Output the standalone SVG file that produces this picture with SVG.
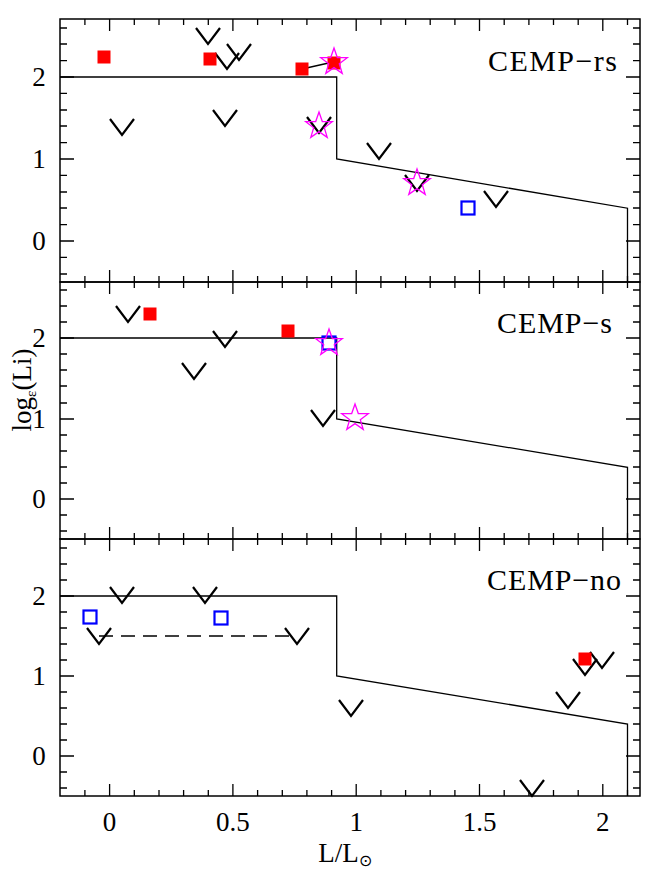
<svg xmlns="http://www.w3.org/2000/svg" width="654" height="871" viewBox="0 0 654 871">
<defs>
<style>
.fr{fill:none;stroke:#000;stroke-width:1.5}
.ln{fill:none;stroke:#000;stroke-width:1.3}
.tk{stroke:#000;stroke-width:1.3}
.t{font-family:"Liberation Serif",serif;font-size:27px;fill:#000}
.lb{font-family:"Liberation Serif",serif;font-size:30px;fill:#000}
</style>
<path id="v" d="M-12,-8 L0,8 L12,-8" fill="none" stroke="#000" stroke-width="2.2"/>
<rect id="rs" x="-6.5" y="-6.5" width="13" height="13" fill="#f00"/>
<rect id="bs" x="-6.5" y="-6.5" width="13" height="13" fill="none" stroke="#00f" stroke-width="2.2"/>
<path id="st" d="M0,-14 L3.3,-4.5 L13.3,-4.3 L5.3,1.7 L8.2,11.3 L0,5.6 L-8.2,11.3 L-5.3,1.7 L-13.3,-4.3 L-3.3,-4.5 Z" fill="none" stroke="#f0f" stroke-width="1.3"/>
<g id="xt" class="tk">
<path d="M84.9,0v6M134.3,0v6M159,0v6M183.6,0v6M208.3,0v6M257.6,0v6M282.3,0v6M306.9,0v6M331.6,0v6M380.9,0v6M405.6,0v6M430.2,0v6M454.9,0v6M504.2,0v6M528.9,0v6M553.5,0v6M578.2,0v6M627.5,0v6"/>
<path d="M109.6,0v12M232.9,0v12M356.2,0v12M479.5,0v12M602.8,0v12"/>
</g>
</defs>
<rect width="654" height="871" fill="#fff"/>
<g id="frames">
<rect class="fr" x="60" y="19" width="580" height="263"/>
<rect class="fr" x="60" y="282" width="580" height="257"/>
<rect class="fr" x="60" y="539" width="580" height="257"/>
</g>
<g id="ticks">
<use href="#xt" y="19"/><use href="#xt" transform="translate(0,282) scale(1,-1)"/>
<use href="#xt" y="282"/><use href="#xt" transform="translate(0,539) scale(1,-1)"/>
<use href="#xt" y="539"/><use href="#xt" transform="translate(0,796) scale(1,-1)"/>
<g class="tk">
<path d="M60,77h14M640,77h-14M60,159h14M640,159h-14M60,241h14M640,241h-14"/>
<path d="M60,44h7M640,44h-7M60,60.6h7M640,60.6h-7M60,93.4h7M640,93.4h-7M60,110h7M640,110h-7M60,126h7M640,126h-7M60,142.6h7M640,142.6h-7M60,175.4h7M640,175.4h-7M60,192h7M640,192h-7M60,208h7M640,208h-7M60,224.6h7M640,224.6h-7M60,257.4h7M640,257.4h-7M60,274h7M640,274h-7M60,28h7M640,28h-7"/>
<path d="M60,338h14M640,338h-14M60,419h14M640,419h-14M60,499h14M640,499h-14"/>
<path d="M60,290h7M640,290h-7M60,306h7M640,306h-7M60,322h7M640,322h-7M60,354h7M640,354h-7M60,370h7M640,370h-7M60,386h7M640,386h-7M60,403h7M640,403h-7M60,435h7M640,435h-7M60,451h7M640,451h-7M60,467h7M640,467h-7M60,483h7M640,483h-7M60,515h7M640,515h-7M60,531h7M640,531h-7"/>
<path d="M60,596h14M640,596h-14M60,676h14M640,676h-14M60,756h14M640,756h-14"/>
<path d="M60,548h7M640,548h-7M60,564h7M640,564h-7M60,580h7M640,580h-7M60,612h7M640,612h-7M60,628h7M640,628h-7M60,644h7M640,644h-7M60,660h7M640,660h-7M60,692h7M640,692h-7M60,708h7M640,708h-7M60,724h7M640,724h-7M60,740h7M640,740h-7M60,772h7M640,772h-7M60,788h7M640,788h-7"/>
</g>
</g>
<g id="curves">
<path class="ln" d="M60,77H336.7V159L627.5,208.2V282"/>
<path class="ln" d="M60,338H336.7V419L627.5,467.3V539"/>
<path class="ln" d="M60,596H336.7V676L627.5,724V796"/>
<path class="ln" d="M302,69L333,62"/>
<path class="ln" d="M99,636H297" stroke-dasharray="14,8"/>
</g>
<g id="panel1">
<use href="#v" x="208" y="36"/><use href="#v" x="239" y="52"/><use href="#v" x="227" y="61"/>
<use href="#v" x="122" y="127"/><use href="#v" x="225" y="118"/><use href="#v" x="319" y="125"/>
<use href="#v" x="379" y="151"/><use href="#v" x="417" y="183"/><use href="#v" x="496" y="199"/>
<use href="#rs" x="104" y="57"/><use href="#rs" x="210" y="59"/><use href="#rs" x="302" y="69"/><use href="#rs" x="334" y="63"/>
<use href="#st" x="334" y="62"/><use href="#st" x="319" y="126"/><use href="#st" x="417" y="183"/>
<use href="#bs" x="468" y="208"/>
<text class="lb" x="617" y="71" text-anchor="end" textLength="129">CEMP−rs</text>
</g>
<g id="panel2">
<use href="#v" x="128" y="314"/><use href="#v" x="225" y="339"/><use href="#v" x="194" y="371"/><use href="#v" x="323" y="418"/>
<use href="#rs" x="150" y="314"/><use href="#rs" x="288" y="331"/>
<use href="#bs" x="329" y="343"/><use href="#st" x="329" y="343"/><use href="#st" x="355" y="418"/>
<text class="lb" x="612" y="333" text-anchor="end" textLength="115">CEMP−s</text>
</g>
<g id="panel3">
<use href="#v" x="122" y="595"/><use href="#v" x="205" y="595"/><use href="#v" x="99" y="636"/><use href="#v" x="297" y="636"/>
<use href="#v" x="351" y="708"/><use href="#v" x="568" y="700"/><use href="#v" x="585" y="667"/><use href="#v" x="602" y="660"/><use href="#v" x="532" y="788"/>
<use href="#bs" x="90" y="617"/><use href="#bs" x="221" y="618"/><use href="#rs" x="585" y="659"/>
<text class="lb" x="621" y="590" text-anchor="end" textLength="134">CEMP−no</text>
</g>
<g id="labels" class="t" text-anchor="middle">
<text x="39" y="86">2</text><text x="39" y="168">1</text><text x="39" y="250">0</text>
<text x="39" y="347">2</text><text x="39" y="428">1</text><text x="39" y="508">0</text>
<text x="39" y="605">2</text><text x="39" y="685">1</text><text x="39" y="765">0</text>
<text x="109.6" y="831">0</text><text x="232.9" y="831">0.5</text><text x="356.2" y="831">1</text><text x="479.5" y="831">1.5</text><text x="602.8" y="831">2</text>
<text x="345" y="862">L/L<tspan font-size="16" dy="4">⊙</tspan></text>
<text transform="translate(31,390) rotate(-90)">log<tspan font-size="15" dy="5">ε</tspan><tspan dy="-5">(Li)</tspan></text>
</g>
</svg>
